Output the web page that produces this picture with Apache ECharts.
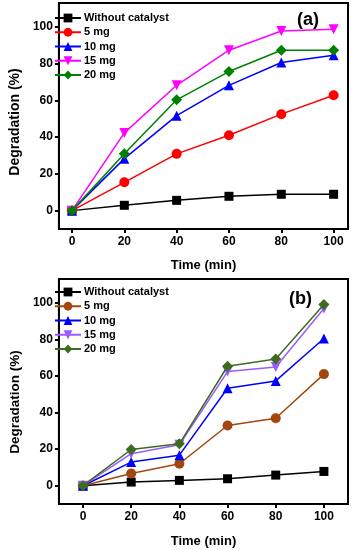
<!DOCTYPE html>
<html>
<head>
<meta charset="utf-8">
<script src="https://cdn.jsdelivr.net/npm/echarts@6/dist/echarts.min.js"></script>
<style>
html,body{margin:0;padding:0;background:#fff;}
#c{width:356px;height:550px;}
</style>
</head>
<body>
<div id="c"></div>
<script>
var timeMin = [0, 20, 40, 60, 80, 100];
var seriesNames = ['Without catalyst', '5 mg', '10 mg', '15 mg', '20 mg'];
var xTicks = [0, 20, 40, 60, 80, 100];
var yTicks = [0, 20, 40, 60, 80, 100];

// Panel (a)
var aWithout = [0, 2.9, 5.6, 7.8, 8.9, 8.9];
var a5mg = [0, 15.4, 30.9, 41.0, 52.5, 62.8];
var a10mg = [0, 28.3, 51.7, 68.2, 80.6, 84.6];
var a15mg = [0, 42.3, 68.2, 87.3, 97.8, 98.7];
var a20mg = [0, 31.0, 60.3, 75.7, 87.3, 87.3];

// Panel (b)
var bWithout = [0, 2.0, 2.9, 3.8, 5.8, 7.8];
var b5mg = [0, 6.7, 12.0, 32.9, 36.9, 61.0];
var b10mg = [0, 12.9, 16.7, 53.3, 57.3, 80.5];
var b15mg = [0, 17.5, 22.4, 62.4, 64.9, 96.9];
var b20mg = [0, 19.8, 22.9, 65.3, 69.3, 99.1];

var colorsA = ['#000000', '#ff0000', '#0000ff', '#ff00ff', '#008000'];
var colorsB = ['#000000', '#a4470f', '#0000ff', '#9a5cff', '#3d6b1f'];
var symbols = ['rect', 'circle', 'triangle', 'triangle', 'diamond'];
var symbolSizes = [9, 10, 10, 10, 11];
var symbolRot = [0, 0, 0, 180, 0];

var FONT = 'Liberation Sans';

function pair(xs, ys) { return xs.map(function (x, i) { return [x, ys[i]]; }); }

function mkSeries(dataArr, colors, idx) {
  return dataArr.map(function (d, i) {
    return {
      name: seriesNames[i] + (idx === 1 ? '\u200b' : ''),
      type: 'line',
      xAxisIndex: idx, yAxisIndex: idx,
      data: pair(timeMin, d),
      symbol: symbols[i],
      symbolSize: symbolSizes[i],
      symbolRotate: symbolRot[i],
      showAllSymbol: true,
      lineStyle: { color: colors[i], width: 1.5 },
      itemStyle: { color: colors[i] },
      z: 2 + i,
      animation: false
    };
  });
}

function mkX(idx, min, max, gap) {
  return {
    gridIndex: idx, type: 'value', min: min, max: max,
    name: 'Time (min)', nameLocation: 'middle', nameGap: gap,
    nameTextStyle: { fontFamily: FONT, fontWeight: 'bold', fontSize: 13, color: '#000' },
    axisLine: { show: true, onZero: false, lineStyle: { color: '#000', width: 2 } },
    axisTick: { show: true, inside: false, length: 4, lineStyle: { width: 2, color: '#000' }, customValues: xTicks },
    axisLabel: { fontFamily: FONT, fontWeight: 'bold', fontSize: 12, color: '#000', margin: 7, customValues: xTicks },
    splitLine: { show: false }
  };
}
function mkY(idx, fs, shift) {
  return {
    gridIndex: idx, type: 'value', min: -10, max: 113,
    name: 'Degradation (%)', nameLocation: 'middle', nameGap: 34,
    nameTextStyle: { fontFamily: FONT, fontWeight: 'bold', fontSize: fs, color: '#000', padding: [0, shift, 0, 0] },
    axisLine: { show: true, onZero: false, lineStyle: { color: '#000', width: 2 } },
    axisTick: { show: true, inside: false, length: 4, lineStyle: { width: 2, color: '#000' }, customValues: yTicks },
    axisLabel: { fontFamily: FONT, fontWeight: 'bold', fontSize: 12, color: '#000', margin: 6, customValues: yTicks },
    splitLine: { show: false }
  };
}
function mkLegend(top, idx) {
  return {
    orient: 'vertical', left: 54, top: top,
    itemWidth: 26, itemHeight: 11, itemGap: 3.25,
    padding: 0,
    data: seriesNames.map(function (n) { return n + (idx === 1 ? '\u200b' : ''); }),
    textStyle: { fontFamily: FONT, fontWeight: 'bold', fontSize: 11, color: '#000', padding: [0, 0, 0, -2] }
  };
}

var chart = echarts.init(document.getElementById('c'), null, { renderer: 'canvas' });
var option = {
  backgroundColor: '#fff',
  animation: false,
  title: [
    { text: '(a)', left: 297, top: 11, padding: 0, textStyle: { fontFamily: FONT, fontWeight: 'bold', fontSize: 18, color: '#000' } },
    { text: '(b)', left: 289, top: 290, padding: 0, textStyle: { fontFamily: FONT, fontWeight: 'bold', fontSize: 18, color: '#000' } }
  ],
  grid: [
    { left: 52, top: 3, width: 296, height: 226, show: true, borderColor: '#000', borderWidth: 2, backgroundColor: 'transparent' },
    { left: 52, top: 279, width: 296, height: 225, show: true, borderColor: '#000', borderWidth: 2, backgroundColor: 'transparent' }
  ],
  legend: [mkLegend(12.5, 0), mkLegend(286.5, 1)],
  xAxis: [mkX(0, -5, 105.5, 30), mkX(1, -10, 110, 31)],
  yAxis: [mkY(0, 14, 12), mkY(1, 13.5, 21)],
  series: mkSeries([aWithout, a5mg, a10mg, a15mg, a20mg], colorsA, 0)
    .concat(mkSeries([bWithout, b5mg, b10mg, b15mg, b20mg], colorsB, 1))
};
chart.setOption(option);
</script>
</body>
</html>
